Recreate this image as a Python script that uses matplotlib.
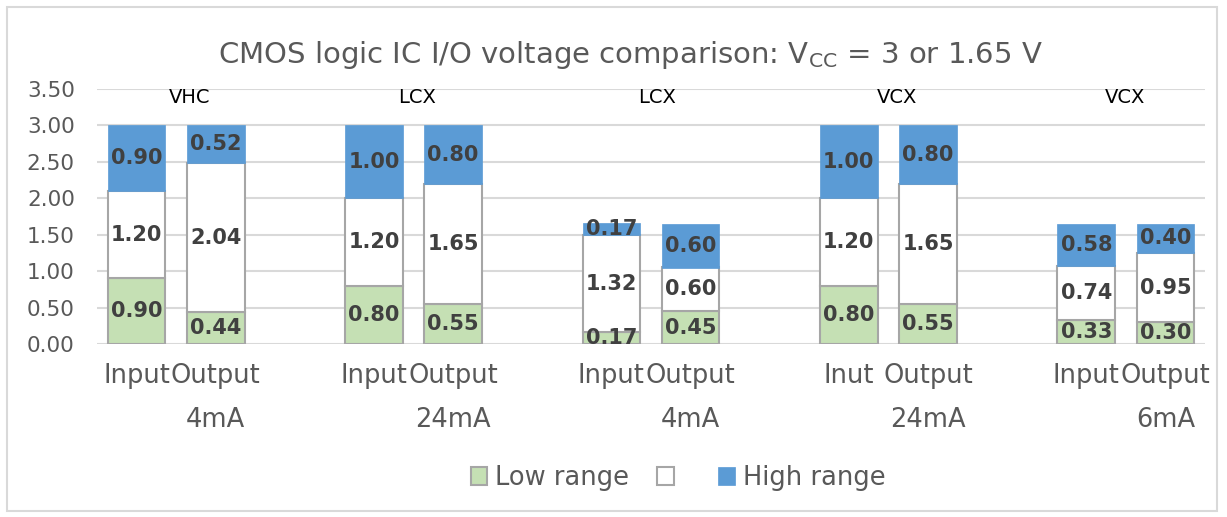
import numpy as np
import matplotlib
matplotlib.use('Agg')
import matplotlib.pyplot as plt
from matplotlib.patches import Rectangle

# categories (blank slots separate the groups)
labels = ['Input', 'Output\n4mA', '', 'Input', 'Output\n24mA', '',
          'Input', 'Output\n4mA', '', 'Inut', 'Output\n24mA', '',
          'Input', 'Output\n6mA']

low = [0.90, 0.44, np.nan, 0.80, 0.55, np.nan, 0.17, 0.45, np.nan,
       0.80, 0.55, np.nan, 0.33, 0.30]
mid = [1.20, 2.04, np.nan, 1.20, 1.65, np.nan, 1.32, 0.60, np.nan,
       1.20, 1.65, np.nan, 0.74, 0.95]
high = [0.90, 0.52, np.nan, 1.00, 0.80, np.nan, 0.17, 0.60, np.nan,
        1.00, 0.80, np.nan, 0.58, 0.40]

groups = ['VHC', 'LCX', 'LCX', 'VCX', 'VCX']
group_x = [0.67, 3.54, 6.58, 9.61, 12.49]

green = '#C5E0B4'
blue = '#5B9BD5'
edge = '#A6A6A6'
txt = '#595959'
lbl = '#404040'

fig = plt.figure(figsize=(12.27, 5.17), dpi=100)
ax = fig.add_axes([97 / 1227, 1 - 344 / 517, 1108 / 1227, 255 / 517])

x = np.arange(len(labels))
ok = ~np.isnan(low)
xs = x[ok]
lo = np.array(low)[ok]
mi = np.array(mid)[ok]
hi = np.array(high)[ok]
w = 0.73

ax.bar(xs, lo, w, color=green, edgecolor=edge, linewidth=1.5, label='Low range', zorder=3)
ax.bar(xs, mi, w, bottom=lo, color='white', edgecolor=edge, linewidth=1.5, label=' ', zorder=3)
ax.bar(xs, hi, w, bottom=lo + mi, color=blue, edgecolor=blue, linewidth=0.5, label='High range', zorder=3)

# value labels
for xi, a, b, c in zip(xs, lo, mi, hi):
    for y, v in [(a / 2, a), (a + b / 2, b), (a + b + c / 2, c)]:
        ax.text(xi, y, f'{v:.2f}', ha='center', va='center',
                fontsize=15, fontweight='bold', color=lbl, zorder=4)

for g, gx in zip(groups, group_x):
    ax.text(gx, 3.39, g, ha='center', va='center', fontsize=14, color='black', zorder=4)

ax.set_xlim(-0.5, len(labels) - 0.5)
ax.set_ylim(0, 3.5)
ax.set_yticks(np.arange(0, 3.51, 0.5))
ax.set_yticklabels([f'{v:.2f}' for v in np.arange(0, 3.51, 0.5)])
ax.set_xticks(x)
ax.set_xticklabels(labels, linespacing=1.9)
ax.tick_params(axis='y', length=0, labelsize=15.5, labelcolor=txt, pad=16)
ax.tick_params(axis='x', length=0, labelsize=18.5, labelcolor=txt, pad=14)
ax.grid(axis='y', color='#D9D9D9', linewidth=1.5, zorder=0)
for s in ax.spines.values():
    s.set_visible(False)

fig.text(630 / 1227, 1 - 55 / 517, 'CMOS logic IC I/O voltage comparison: V$_{\\mathregular{CC}}$ = 3 or 1.65 V',
         ha='center', va='center', fontsize=21, color=txt)

fig.legend(loc='center', bbox_to_anchor=(678 / 1227, 1 - 478 / 517), ncol=3, frameon=False,
           fontsize=18.5, labelcolor=txt, handlelength=0.65, handleheight=0.65,
           handletextpad=0.3, columnspacing=1.1)

# chart border
fig.patches.append(Rectangle((7 / 1227, 6 / 517), 1210 / 1227, 504 / 517, transform=fig.transFigure,
                             fill=False, edgecolor='#D9D9D9', linewidth=1.5))

fig.savefig('out.png', dpi=100)
